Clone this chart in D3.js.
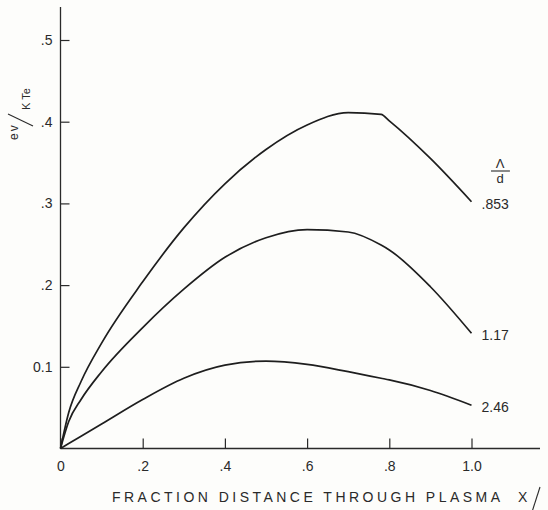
<!DOCTYPE html>
<html>
<head>
<meta charset="utf-8">
<script src="https://cdn.jsdelivr.net/npm/d3@7"></script>
<style>
  body { margin: 0; background: #fdfdfb; }
  text { font-family: 'Liberation Sans', Arial, sans-serif; fill: #2a2a2a; }
</style>
</head>
<body>
<div class="canvas"></div>
<script>
// data
const xFraction = [0, 0.02, 0.05, 0.1, 0.2, 0.3, 0.4, 0.5, 0.6, 0.7, 0.78, 0.8, 0.9, 1.0];
const ratio853 = [0, 0.044, 0.082, 0.129, 0.204, 0.270, 0.324, 0.366, 0.396, 0.411, 0.409, 0.401, 0.355, 0.302];
const ratio117 = [0, 0.033, 0.060, 0.094, 0.148, 0.195, 0.234, 0.258, 0.268, 0.265, 0.249, 0.243, 0.198, 0.141];
const ratio246 = [0, 0.006, 0.015, 0.030, 0.060, 0.086, 0.102, 0.107, 0.103, 0.094, 0.086, 0.084, 0.071, 0.053];
const seriesLabels = ['.853', '1.17', '2.46'];

const xTicks = [0, 0.2, 0.4, 0.6, 0.8, 1.0];
const xTickLabels = ['0', '.2', '.4', '.6', '.8', '1.0'];
const yTicks = [0.1, 0.2, 0.3, 0.4, 0.5];
const yTickLabels = ['0.1', '.2', '.3', '.4', '.5'];

const series = [ratio853, ratio117, ratio246].map((vals, i) => ({
    label: seriesLabels[i],
    points: xFraction.map((x, j) => ({x: x, v: vals[j]}))
}));

// svg container
const svg = d3.select('.canvas')
    .append('svg')
        .attr('width', 548)
        .attr('height', 510);

// scales
const x = d3.scaleLinear()
    .domain([0, 1])
    .range([60.5, 471.5]);

const y = d3.scaleLinear()
    .domain([0, 0.5])
    .range([448.5, 40]);

const ink = '#2a2a2a';

// axis lines (drawn by hand so they run past the last tick)
svg.append('line')
    .attr('x1', x(0)).attr('x2', x(0))
    .attr('y1', 7).attr('y2', y(0))
    .attr('stroke', ink).attr('stroke-width', 1.3);

svg.append('line')
    .attr('x1', x(0)).attr('x2', 540)
    .attr('y1', y(0)).attr('y2', y(0))
    .attr('stroke', ink).attr('stroke-width', 1.3);

// axes
const xAxis = d3.axisBottom(x)
    .tickValues(xTicks)
    .tickSizeInner(-10)
    .tickSizeOuter(0)
    .tickPadding(13)
    .tickFormat((d, i) => xTickLabels[i]);

const yAxis = d3.axisLeft(y)
    .tickValues(yTicks)
    .tickSizeInner(-9)
    .tickSizeOuter(0)
    .tickPadding(8)
    .tickFormat((d, i) => yTickLabels[i]);

const xAxisGroup = svg.append('g')
    .attr('transform', `translate(0, ${y(0)})`)
    .call(xAxis);

const yAxisGroup = svg.append('g')
    .attr('transform', `translate(${x(0)}, 0)`)
    .call(yAxis);

[xAxisGroup, yAxisGroup].forEach(g => {
    g.select('.domain').remove();
    g.selectAll('line').attr('stroke', ink).attr('stroke-width', 1.2);
    g.selectAll('text')
        .attr('font-size', 14)
        .attr('fill', ink)
        .style('font-family', "'Liberation Sans', Arial, sans-serif");
});

// curves
const line = d3.line()
    .x(d => x(d.x))
    .y(d => y(d.v))
    .curve(d3.curveMonotoneX);

svg.selectAll('path.curve')
    .data(series)
    .enter()
    .append('path')
        .attr('class', 'curve')
        .attr('d', d => line(d.points))
        .attr('fill', 'none')
        .attr('stroke', '#1e1e1e')
        .attr('stroke-width', 1.7);

// end labels
svg.selectAll('text.end')
    .data(series)
    .enter()
    .append('text')
        .attr('class', 'end')
        .attr('x', d => x(1) + 10)
        .attr('y', d => y(d.points[d.points.length - 1].v) + 7)
        .attr('font-size', 14)
        .text(d => d.label);

// Lambda / d legend heading
svg.append('text')
    .attr('x', 500).attr('y', 168)
    .attr('text-anchor', 'middle')
    .attr('font-size', 13)
    .text('\u039B');
svg.append('line')
    .attr('x1', 491).attr('x2', 510)
    .attr('y1', 171).attr('y2', 171)
    .attr('stroke', ink).attr('stroke-width', 1.1);
svg.append('text')
    .attr('x', 500).attr('y', 183)
    .attr('text-anchor', 'middle')
    .attr('font-size', 13)
    .text('d');

// x title
svg.append('text')
    .attr('x', 112).attr('y', 502)
    .attr('font-size', 14)
    .attr('textLength', 388)
    .attr('lengthAdjust', 'spacing')
    .text('FRACTION  DISTANCE  THROUGH  PLASMA');
svg.append('text')
    .attr('x', 518).attr('y', 502)
    .attr('font-size', 14)
    .text('X');
svg.append('line')
    .attr('x1', 540).attr('y1', 487)
    .attr('x2', 532).attr('y2', 512)
    .attr('stroke', ink).attr('stroke-width', 1.1);

// y title  ev / kTe, rotated
const yTitle = svg.append('g')
    .attr('transform', 'translate(18, 140) rotate(-90)');
yTitle.append('text')
    .attr('x', 0).attr('y', 0)
    .attr('font-size', 12)
    .attr('letter-spacing', 2)
    .text('ev');
yTitle.append('line')
    .attr('x1', 14).attr('y1', 15)
    .attr('x2', 26).attr('y2', -10)
    .attr('stroke', ink).attr('stroke-width', 1.1);
yTitle.append('text')
    .attr('x', 30).attr('y', 12)
    .attr('font-size', 11)
    .text('K Te');
</script>
</body>
</html>
